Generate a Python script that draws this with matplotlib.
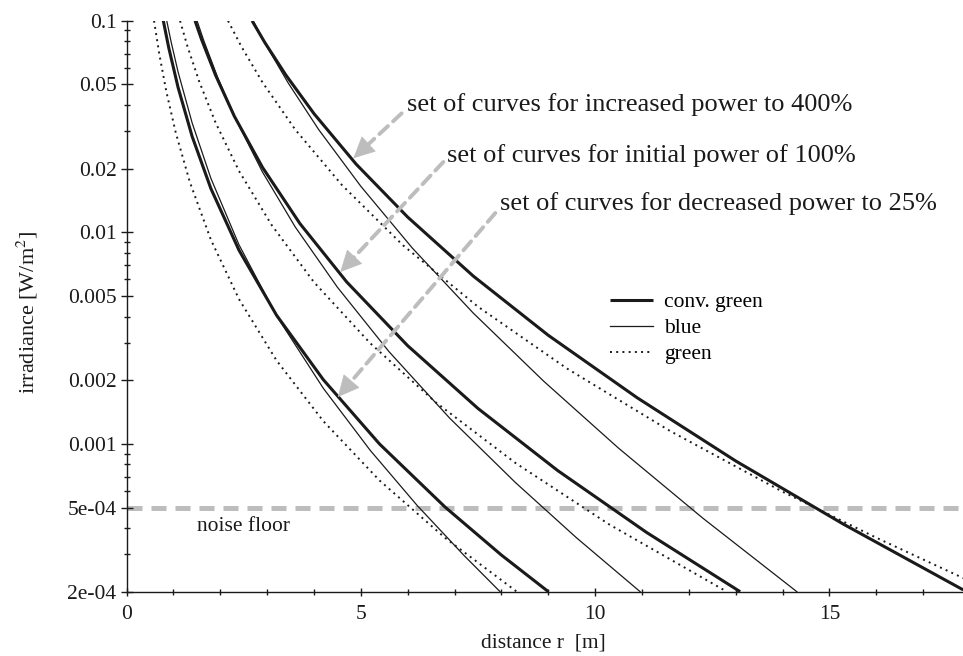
import matplotlib
matplotlib.use("Agg")
from matplotlib import pyplot as plt
from matplotlib.ticker import MultipleLocator, LogLocator, NullFormatter
import numpy as np

plt.rcParams["font.family"] = ["Liberation Serif", "DejaVu Serif"]
plt.rcParams["mathtext.fontset"] = "stix"

# curves: distance r [m] and irradiance E [W/m^2]
# decreased power 25%
r_conv_25 = [0.785, 0.9, 1.1, 1.4, 1.8, 2.4, 3.2, 4.2, 5.4, 6.8, 8.0, 9.003]
E_conv_25 = [0.1, 0.0747, 0.0484, 0.0284, 0.0161, 0.00823, 0.00406, 0.00201, 0.000998, 0.000502, 0.000298, 0.0002]
r_blue_25 = [0.858, 0.95, 1.1, 1.4, 1.8, 2.4, 3.2, 4.2, 5.2, 6.2, 7.2, 7.972]
E_blue_25 = [0.1, 0.0797, 0.0573, 0.0329, 0.0180, 0.00873, 0.00403, 0.00183, 0.000932, 0.000512, 0.000297, 0.0002]
r_green_25 = [0.587, 0.7, 0.85, 1.05, 1.35, 1.8, 2.4, 3.2, 4.2, 5.4, 6.8, 8.329]
E_green_25 = [0.1, 0.0694, 0.0462, 0.0296, 0.0173, 0.00922, 0.00483, 0.00248, 0.00128, 0.000671, 0.000359, 0.0002]
# initial power 100%
r_conv_100 = [1.462, 1.6, 1.9, 2.3, 2.9, 3.7, 4.7, 6.0, 7.5, 9.2, 11.1, 13.095]
E_conv_100 = [0.1, 0.0817, 0.0553, 0.0354, 0.0203, 0.0110, 0.00582, 0.00291, 0.00147, 0.000748, 0.000381, 0.0002]
r_blue_100 = [1.505, 1.65, 1.95, 2.35, 2.9, 3.6, 4.5, 5.6, 6.9, 8.3, 9.6, 10.961]
E_blue_100 = [0.1, 0.0804, 0.0536, 0.0336, 0.0193, 0.0106, 0.00550, 0.00273, 0.00132, 0.000656, 0.00036, 0.0002]
r_green_100 = [1.142, 1.3, 1.55, 1.9, 2.4, 3.1, 4.0, 5.2, 6.6, 8.3, 10.3, 12.811]
E_green_100 = [0.1, 0.0757, 0.0517, 0.0330, 0.0195, 0.0108, 0.00581, 0.00299, 0.00157, 0.000812, 0.000416, 0.0002]
# increased power 400%
r_conv_400 = [2.679, 2.95, 3.4, 4.0, 4.9, 6.0, 7.4, 9.0, 10.9, 13.0, 15.3, 17.855]
E_conv_400 = [0.1, 0.0790, 0.0554, 0.0364, 0.0210, 0.0118, 0.00621, 0.00326, 0.00165, 0.00083, 0.000417, 0.000204]
r_blue_400 = [2.7, 3.0, 3.45, 4.1, 5.0, 6.1, 7.4, 8.9, 10.5, 12.3, 14.305]
E_blue_400 = [0.1, 0.0752, 0.0508, 0.0306, 0.0165, 0.00842, 0.00415, 0.00198, 0.000954, 0.000445, 0.0002]
r_green_400 = [2.166, 2.45, 2.9, 3.6, 4.6, 5.9, 7.5, 9.4, 11.6, 14.0, 16.0, 17.855]
E_green_400 = [0.1, 0.0756, 0.0512, 0.0306, 0.0167, 0.00868, 0.00445, 0.00227, 0.00115, 0.000594, 0.00036, 0.000232]

yticks = [0.1, 0.05, 0.02, 0.01, 0.005, 0.002, 0.001, 5e-4, 2e-4]
ytick_labels = ["0.1", "0.05", "0.02", "0.01", "0.005", "0.002", "0.001", "5e-04", "2e-04"]
noise_floor = 5e-4

notes = ["set of curves for increased power to 400%",
         "set of curves for initial power of 100%",
         "set of curves for decreased power to 25%"]
note_xy = [(5.98, 0.0376), (6.83, 0.0216), (7.97, 0.0128)]
arrow_tail = [(5.87, 0.0365), (6.76, 0.0215), (7.87, 0.01234)]
arrow_tip = [(4.84, 0.0224), (4.56, 0.00649), (4.51, 0.001665)]

ink = "#1a1a1a"
grey = "#bdbdbd"

fig = plt.figure(figsize=(9.63, 6.56), dpi=100)
ax = fig.add_axes([0.1314, 0.098, 0.8686, 0.8703])
ax.set_yscale("log")
ax.set_ylim(2e-4, 0.1)
ax.set_xlim(0, 17.85)

# noise floor
ax.axhline(noise_floor, color=grey, lw=3.6, dashes=(3, 1.8), zorder=1)
ax.text(1.5, 4.06e-4, "noise floor", fontsize=15.5, va="center", ha="left", color=ink)

conv_kw = dict(color=ink, lw=2.2, solid_capstyle="butt", solid_joinstyle="round")
blue_kw = dict(color=ink, lw=0.9, solid_joinstyle="round")
green_kw = dict(color=ink, lw=1.4, linestyle=(0, (1, 2.2)))

ax.plot(r_conv_25, E_conv_25, **conv_kw)
ax.plot(r_blue_25, E_blue_25, **blue_kw)
ax.plot(r_green_25, E_green_25, **green_kw)
ax.plot(r_conv_100, E_conv_100, **conv_kw)
ax.plot(r_blue_100, E_blue_100, **blue_kw)
ax.plot(r_green_100, E_green_100, **green_kw)
ax.plot(r_conv_400, E_conv_400, label="conv. green", **conv_kw)
ax.plot(r_blue_400, E_blue_400, label="blue", **blue_kw)
ax.plot(r_green_400, E_green_400, label="green", **green_kw)

for txt, pos, tail, tip in zip(notes, note_xy, arrow_tail, arrow_tip):
    ax.text(pos[0], pos[1], txt, fontsize=19, va="baseline", ha="left", color=ink)
    # dashed shaft
    ax.annotate("", xy=tip, xytext=tail,
                arrowprops=dict(arrowstyle="-", color=grey, lw=2.8,
                                linestyle=(0, (3, 1.8)), shrinkA=0, shrinkB=12))
    # solid head
    p_tail = ax.transData.transform(tail)
    p_tip = ax.transData.transform(tip)
    d = (p_tail - p_tip) / np.hypot(*(p_tail - p_tip))
    ax.annotate("", xy=tip, xytext=(d[0] * 14, d[1] * 14), textcoords="offset points",
                arrowprops=dict(arrowstyle="-|>,head_length=0.45,head_width=0.22",
                                mutation_scale=32, color=grey, lw=0.5,
                                shrinkA=0, shrinkB=0))

ax.legend(loc="upper left", bbox_to_anchor=(0.578, 0.525), frameon=False,
          fontsize=15.5, handlelength=2.0, handletextpad=0.5, labelspacing=0.28,
          borderpad=0, borderaxespad=0)

ax.set_yticks(yticks)
ax.set_yticklabels(ytick_labels)
ax.yaxis.set_minor_locator(LogLocator(base=10, subs=np.arange(2, 10)))
ax.yaxis.set_minor_formatter(NullFormatter())
ax.set_xticks([0, 5, 10, 15])
ax.xaxis.set_minor_locator(MultipleLocator(1))

ax.tick_params(axis="both", which="both", direction="inout", colors=ink,
               labelsize=15.5, width=1.0)
ax.tick_params(axis="y", which="major", length=8.5, pad=3)
ax.tick_params(axis="y", which="minor", length=5)
ax.tick_params(axis="x", which="major", length=6, pad=6.5)
ax.tick_params(axis="x", which="minor", length=4.5)

for s in ["top", "right"]:
    ax.spines[s].set_visible(False)
for s in ["left", "bottom"]:
    ax.spines[s].set_color(ink)
    ax.spines[s].set_linewidth(1.0)

ax.set_xlabel("distance r  [m]", fontsize=15.5, color=ink)
ax.set_ylabel("irradiance [W/m$^2$]", fontsize=16, color=ink)
ax.xaxis.set_label_coords(0.498, -0.074)
ax.yaxis.set_label_coords(-0.103, 0.49)

fig.savefig("out.png", dpi=100)
